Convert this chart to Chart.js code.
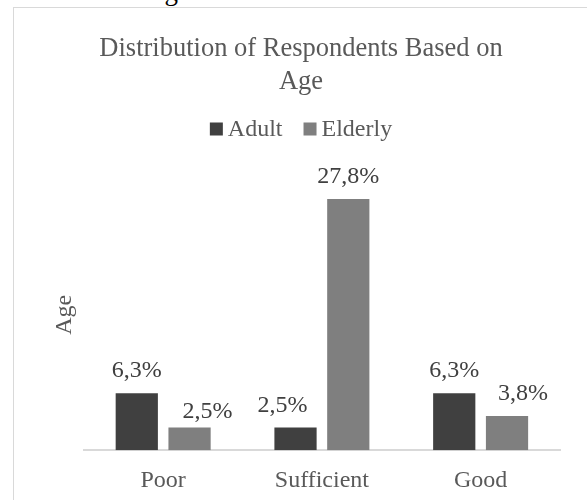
<!DOCTYPE html>
<html>
<head>
<meta charset="utf-8">
<script src="https://cdn.jsdelivr.net/npm/chart.js@4.4.1/dist/chart.umd.min.js"></script>
<style>
  html, body { margin: 0; padding: 0; background: #fff; overflow: hidden; }
  #wrap { position: relative; width: 587px; height: 500px; }
  #frame { position: absolute; left: 13px; top: 7px; width: 600px; height: 520px; border: 1px solid #d9d9d9; box-sizing: border-box; }
  #clip { position: absolute; left: 0; top: 0; width: 587px; height: 7px; overflow: hidden; }
  #clip span { position: absolute; left: 40px; top: -22px; font: 27px/27px "Liberation Serif", "Times New Roman", serif; color: #000; white-space: nowrap; }
  canvas { position: absolute; left: 0; top: 0; }
</style>
</head>
<body>
<div id="wrap">
  <div id="clip"><span>Based on Age</span></div>
  <div id="frame"></div>
  <canvas id="chart" width="587" height="500"></canvas>
</div>
<script>
const categories = ["Poor", "Sufficient", "Good"];
const seriesNames = ["Adult", "Elderly"];
const adultValues = [6.3, 2.5, 6.3];
const elderlyValues = [2.5, 27.8, 3.8];
const seriesColors = ["#404040", "#7f7f7f"];

const serif = "'Liberation Serif', 'Times New Roman', serif";

// value labels above the bars, Excel-style "6,3%"
const barLabels = {
  id: "barLabels",
  afterDatasetsDraw(chart, args, opts) {
    const ctx = chart.ctx;
    ctx.save();
    ctx.font = "24px " + serif;
    ctx.fillStyle = "#404040";
    ctx.textAlign = "center";
    ctx.textBaseline = "alphabetic";
    chart.data.datasets.forEach((ds, di) => {
      chart.getDatasetMeta(di).data.forEach((bar, i) => {
        const n = (opts.nudge[di + "-" + i]) || [0, 0];
        const txt = ds.data[i].toFixed(1).replace(".", ",") + "%";
        ctx.fillText(txt, bar.x + n[0], bar.y - 16 + n[1]);
      });
    });
    ctx.restore();
  }
};

// legend drawn by hand so the box/text spacing matches
const squareLegend = {
  id: "squareLegend",
  afterDraw(chart) {
    const ctx = chart.ctx;
    ctx.save();
    ctx.font = "24px " + serif;
    ctx.textBaseline = "middle";
    const items = chart.data.datasets.map(ds => ({
      text: ds.label, color: ds.backgroundColor, w: ctx.measureText(ds.label).width
    }));
    const box = 13, gap = 5, between = 21;
    let total = items.reduce((s, it) => s + box + gap + it.w, 0) + between * (items.length - 1);
    const tb = chart.titleBlock;
    let x = tb.left + tb.width / 2 - total / 2;
    const y = 130;
    items.forEach(it => {
      ctx.fillStyle = it.color;
      ctx.fillRect(x, y - box / 2 - 1, box, box);
      ctx.fillStyle = "#595959";
      ctx.fillText(it.text, x + box + gap, y);
      x += box + gap + it.w + between;
    });
    ctx.restore();
  }
};

new Chart(document.getElementById("chart"), {
  type: "bar",
  data: {
    labels: categories,
    datasets: [
      { label: seriesNames[0], data: adultValues, backgroundColor: seriesColors[0] },
      { label: seriesNames[1], data: elderlyValues, backgroundColor: seriesColors[1] }
    ]
  },
  options: {
    responsive: false,
    animation: false,
    events: [],
    barPercentage: 0.8,
    categoryPercentage: 0.665,
    layout: { padding: { left: 42, right: 27, top: 0, bottom: -11 } },
    plugins: {
      legend: { display: false },
      tooltip: { enabled: false },
      title: {
        display: true,
        text: ["Distribution of Respondents Based on", "Age"],
        color: "#595959",
        font: { family: serif, size: 26.5, weight: "normal", lineHeight: 1.25 },
        padding: { top: 32, bottom: 81 }
      },
      barLabels: {
        nudge: { "1-0": [18, 6], "0-1": [-13, 0], "1-2": [16, 0] }
      }
    },
    scales: {
      x: {
        grid: { display: false, drawTicks: false },
        border: { color: "#d9d9d9", width: 2 },
        ticks: { color: "#595959", font: { family: serif, size: 24 }, padding: 16 }
      },
      y: {
        min: 0,
        max: 30,
        grid: { display: false },
        border: { display: false },
        ticks: { display: false },
        title: {
          display: true,
          text: "Age",
          color: "#595959",
          font: { family: serif, size: 24 },
          padding: { top: 8, bottom: -3 }
        }
      }
    }
  },
  plugins: [barLabels, squareLegend]
});
</script>
</body>
</html>
